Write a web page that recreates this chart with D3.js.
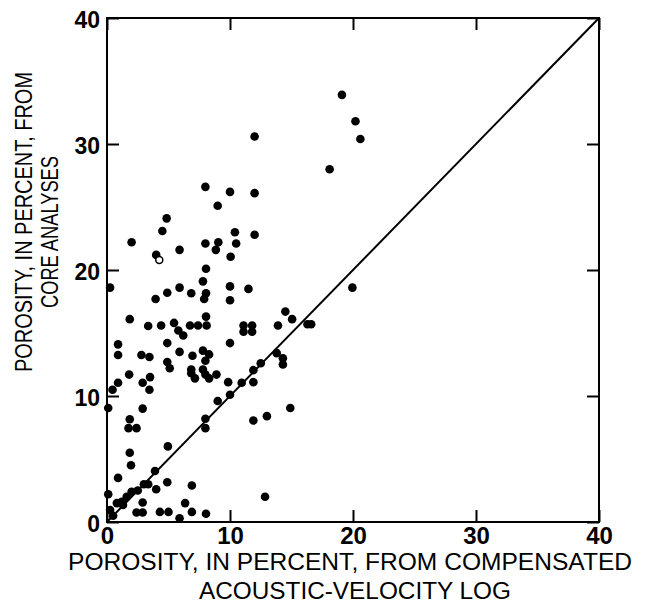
<!DOCTYPE html>
<html>
<head>
<meta charset="utf-8">
<script src="https://cdn.jsdelivr.net/npm/d3@7"></script>
<style>
  body { margin: 0; background: #fff; }
  svg text { font-family: "Liberation Sans", Arial, sans-serif; fill: #000; }
  .axis .domain { display: none; }
  .axis line { stroke: #000; stroke-width: 2; }
</style>
</head>
<body>
<div id="chart"></div>
<script>
// porosity from acoustic-velocity log (x) vs from core analyses (y), percent
const logPorosity = [
    19.1, 12.0, 20.2, 20.6, 18.1,
    8.0, 10.0, 12.0, 9.0, 4.85, 4.5, 10.4, 12.0, 2.0, 8.0, 9.05, 10.5, 8.85, 5.9, 10.05,
    4.0, 8.05, 0.25, 7.8, 5.9, 4.9, 3.95, 6.85, 8.05, 7.9, 10.0, 11.5, 10.0, 1.85, 8.05,
    3.35, 4.4, 5.45, 5.8, 6.2, 6.75, 7.4, 8.1, 11.1, 11.8, 11.1, 11.8, 13.9, 14.5, 15.05,
    16.3, 16.6, 19.95, 0.9, 4.9, 10.0, 13.8,
    0.9, 2.8, 3.45, 5.9, 4.9, 5.1, 6.95, 7.8, 8.3, 8.0, 7.8, 6.85, 6.85, 7.15, 8.0, 8.3,
    8.9, 1.8, 2.9, 3.5, 3.45, 0.9, 0.45, 9.85, 11.9, 11.9, 12.5, 14.3, 14.3, 10.95, 10.0,
    9.0, 0.1, 2.9, 1.85, 1.75, 2.4, 8.0, 8.0, 11.9, 13.0, 14.9, 4.95, 1.85, 1.95, 3.9,
    0.9, 3.35, 4.9, 4.0, 6.9, 12.85, 0.1, 2.0, 1.6, 1.2, 0.8, 1.3, 0.25, 2.9, 2.4, 2.9,
    4.3, 5.0, 6.35, 6.9, 5.9, 8.05, 0.5, 2.5, 3.0
];
const corePorosity = [
    33.9, 30.6, 31.8, 30.4, 28.0,
    26.6, 26.2, 26.1, 25.1, 24.1, 23.1, 23.0, 22.8, 22.2, 22.1, 22.2, 22.1, 21.6, 21.6, 21.05,
    21.2, 20.1, 18.6, 19.1, 18.6, 18.2, 17.7, 18.15, 18.15, 17.7, 18.7, 18.5, 17.6, 16.1, 16.3,
    15.55, 15.6, 15.8, 15.2, 14.8, 15.6, 15.6, 15.6, 15.6, 15.6, 15.1, 15.1, 15.6, 16.7, 16.1,
    15.7, 15.7, 18.6, 14.1, 14.2, 14.2, 13.4,
    13.25, 13.25, 13.1, 13.5, 12.7, 12.2, 13.2, 13.6, 13.3, 12.8, 12.1, 12.1, 11.8, 11.4, 11.7, 11.4,
    11.7, 11.7, 11.05, 11.5, 10.5, 11.05, 10.5, 11.1, 11.1, 12.05, 12.6, 13.0, 12.5, 11.05, 10.1,
    9.6, 9.05, 9.0, 8.15, 7.45, 7.45, 8.2, 7.45, 8.05, 8.4, 9.05, 6.0, 5.5, 4.5, 4.05,
    3.5, 3.0, 3.15, 2.6, 2.9, 2.0, 2.2, 2.4, 2.0, 1.6, 1.5, 1.35, 0.95, 1.55, 0.75, 0.75,
    0.8, 0.8, 1.5, 0.8, 0.3, 0.65, 0.5, 2.5, 3.0
];
// the one hollow-looking sample
const openPoint = [4.25, 20.8];
const tickValues = [0, 10, 20, 30, 40];
const xTitle = ['POROSITY, IN PERCENT, FROM COMPENSATED', 'ACOUSTIC-VELOCITY LOG'];
const yTitle = ['POROSITY, IN PERCENT, FROM', 'CORE ANALYSES'];

const points = logPorosity.map((d, i) => ({x: d, y: corePorosity[i]}));

const W = 649, H = 603;
const margin = {top: 18, left: 107};
const width = 492, height = 504;

const svg = d3.select('#chart').append('svg')
    .attr('width', W)
    .attr('height', H);

const chart = svg.append('g')
    .attr('transform', `translate(${margin.left},${margin.top})`);

const xScale = d3.scaleLinear().domain([0, 40]).range([0, width]);
const yScale = d3.scaleLinear().domain([0, 40]).range([height, 0]);

// inward ticks on all four sides
const xAxis = d3.axisBottom(xScale).tickValues(tickValues).tickSize(-12).tickSizeOuter(0).tickPadding(5);
const yAxis = d3.axisLeft(yScale).tickValues(tickValues).tickSize(-12).tickSizeOuter(0).tickPadding(7);

const xAxisG = chart.append('g')
    .attr('class', 'axis')
    .attr('transform', `translate(0,${height})`)
    .call(xAxis);
xAxisG.selectAll('text').style('font-size', '24px').style('font-weight', 'bold');

const yAxisG = chart.append('g')
    .attr('class', 'axis')
    .call(yAxis);
yAxisG.selectAll('text').style('font-size', '23px').style('font-weight', 'bold').attr('dy', '0.4em');

chart.append('g')
    .attr('class', 'axis')
    .call(d3.axisTop(xScale).tickValues(tickValues).tickSize(-12).tickSizeOuter(0).tickFormat(''));
chart.append('g')
    .attr('class', 'axis')
    .attr('transform', `translate(${width},0)`)
    .call(d3.axisRight(yScale).tickValues(tickValues).tickSize(-12).tickSizeOuter(0).tickFormat(''));

chart.append('rect')
    .attr('width', width)
    .attr('height', height)
    .attr('fill', 'none')
    .attr('stroke', '#000')
    .attr('stroke-width', 2);

// 1:1 line
chart.append('line')
    .attr('x1', xScale(0)).attr('y1', yScale(0))
    .attr('x2', xScale(40)).attr('y2', yScale(40))
    .attr('stroke', '#000')
    .attr('stroke-width', 2);

chart.append('g')
    .selectAll('circle')
    .data(points)
    .join('circle')
    .attr('cx', d => xScale(d.x))
    .attr('cy', d => yScale(d.y))
    .attr('r', 4.3)
    .attr('fill', '#000');

chart.append('circle')
    .attr('cx', xScale(openPoint[0]))
    .attr('cy', yScale(openPoint[1]))
    .attr('r', 3.5)
    .attr('fill', '#fff')
    .attr('stroke', '#000')
    .attr('stroke-width', 1.5);

// axis titles
svg.append('text')
    .attr('x', 350).attr('y', 570)
    .attr('text-anchor', 'middle')
    .attr('textLength', 564)
    .attr('lengthAdjust', 'spacingAndGlyphs')
    .style('font-size', '23px')
    .text(xTitle[0]);
svg.append('text')
    .attr('x', 355).attr('y', 599)
    .attr('text-anchor', 'middle')
    .attr('textLength', 312)
    .attr('lengthAdjust', 'spacingAndGlyphs')
    .style('font-size', '23px')
    .text(xTitle[1]);

svg.append('text')
    .attr('transform', 'translate(32,222) rotate(-90)')
    .attr('text-anchor', 'middle')
    .attr('textLength', 300)
    .attr('lengthAdjust', 'spacingAndGlyphs')
    .style('font-size', '23px')
    .text(yTitle[0]);
svg.append('text')
    .attr('transform', 'translate(58,232) rotate(-90)')
    .attr('text-anchor', 'middle')
    .attr('textLength', 152)
    .attr('lengthAdjust', 'spacingAndGlyphs')
    .style('font-size', '23px')
    .text(yTitle[1]);
</script>
</body>
</html>
